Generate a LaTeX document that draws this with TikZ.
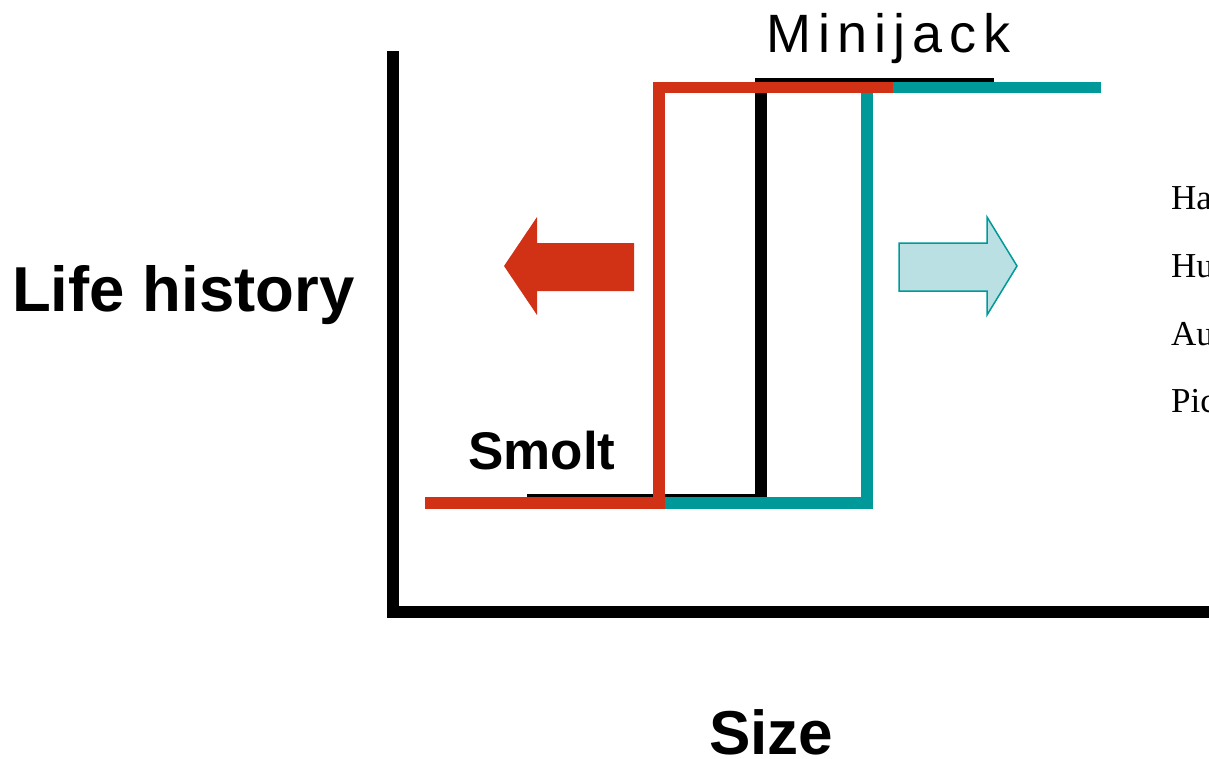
\documentclass[tikz,border=0pt]{standalone}
\usepackage{fontspec}
\setmainfont{Liberation Sans}
\newfontfamily\serifface{Liberation Serif}
\newfontfamily\spacedsans[LetterSpace=13]{Liberation Sans}
\definecolor{smoltred}{RGB}{209,49,21}
\definecolor{jackteal}{RGB}{0,153,153}
\definecolor{paleteal}{RGB}{186,224,227}
\tikzset{
  axisline/.style={line width=12pt, black},
  stepline/.style={line width=11.5pt, line cap=butt, line join=miter},
  biglabel/.style={font=\fontsize{63.5}{63.5}\selectfont\bfseries, inner sep=0pt, anchor=base west},
  midlabel/.style={font=\fontsize{53}{53}\selectfont\bfseries, inner sep=0pt, anchor=base west},
  sidetext/.style={font=\serifface\fontsize{35}{35}\selectfont, inner sep=0pt, anchor=base west},
}
\begin{document}
\begin{tikzpicture}[x=1pt, y=-1pt]
\useasboundingbox (0,0) rectangle (1209,758);

% axes
\draw[axisline, line cap=butt] (393,51) -- (393,612) -- (1230,612);

% threshold step lines: black (reference), teal, red on top
\draw[stepline, black, line width=12pt] (527,500) -- (760.5,500) -- (760.5,84) -- (994,84);
\draw[stepline, jackteal] (633,503) -- (867,503) -- (867,87.5) -- (1101,87.5);
\draw[stepline, smoltred] (425,503) -- (659,503) -- (659,87.5) -- (893,87.5);

% shift arrows
\fill[smoltred] (634,243) -- (537,243) -- (537,217) -- (504,266) -- (537,315) -- (537,291) -- (634,291) -- cycle;
\filldraw[fill=paleteal, draw=jackteal, line width=1.5pt] (899,243) -- (987,243) -- (987,217) -- (1017,266) -- (987,315) -- (987,291) -- (899,291) -- cycle;

% labels
\node[biglabel] (lifehist) at (12,311) {Life history};
\node[midlabel] (smolt) at (468,469) {Smolt};
\node[biglabel, font=\fontsize{62}{62}\selectfont\bfseries] (size) at (709,754) {Size};
\node[inner sep=0pt, anchor=base west, font=\spacedsans\fontsize{54}{54}\selectfont] (minijack) at (766,52) {Minijack};

% list at the right edge
\node[sidetext] (ha) at (1171,209) {Ha};
\node[sidetext] (hu) at (1171,277) {Hu};
\node[sidetext] (au) at (1171,345) {Au};
\node[sidetext] (pic) at (1171,412) {Pic};
\end{tikzpicture}
\end{document}
